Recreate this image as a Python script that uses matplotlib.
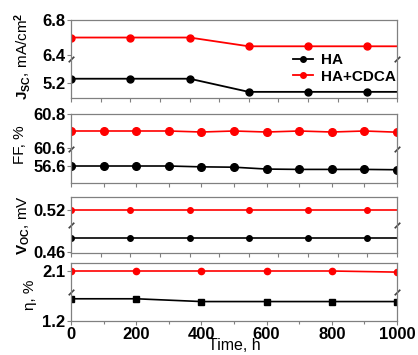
import numpy as np
import matplotlib
matplotlib.use("Agg")
import matplotlib.pyplot as plt

plt.rcParams['font.family'] = ['Liberation Sans', 'DejaVu Sans']
plt.rcParams['font.weight'] = 'bold'
plt.rcParams['mathtext.fontset'] = 'custom'
plt.rcParams['mathtext.rm'] = 'Liberation Sans:bold'
plt.rcParams['mathtext.bf'] = 'Liberation Sans:bold'
plt.rcParams['mathtext.it'] = 'Liberation Sans:bold'

# данные
t_jv = [0, 182, 364, 545, 727, 909, 1000]
jsc_ha = [5.25, 5.25, 5.25, 5.1, 5.1, 5.1, 5.1]
jsc_cdca = [6.6, 6.6, 6.6, 6.5, 6.5, 6.5, 6.5]
voc_ha = [0.48, 0.48, 0.48, 0.48, 0.48, 0.48, 0.48]
voc_cdca = [0.52, 0.52, 0.52, 0.52, 0.52, 0.52, 0.52]

t_ff = [0, 100, 200, 300, 400, 500, 600, 700, 800, 900, 1000]
ff_ha = [56.6, 56.6, 56.6, 56.6, 56.595, 56.593, 56.582, 56.58, 56.58, 56.58, 56.578]
ff_cdca = [60.70, 60.70, 60.70, 60.70, 60.694, 60.70, 60.694, 60.70, 60.694, 60.70, 60.693]

t_eta = [0, 200, 400, 600, 800, 1000]
eta_ha = [1.6, 1.6, 1.55, 1.55, 1.55, 1.55]
eta_cdca = [2.1, 2.1, 2.1, 2.1, 2.1, 2.08]

labels = ["HA", "HA+CDCA"]
gray = '#808080'


def broken(b_lo, b_hi):
    # разрыв оси: значения между b_lo и b_hi сжимаются
    gap = b_hi - b_lo

    def fwd(y):
        y = np.asarray(y, float)
        return np.where(y >= b_hi, y - gap, np.where(y <= b_lo, y, b_lo))

    def inv(y):
        y = np.asarray(y, float)
        return np.where(y > b_lo, y + gap, y)
    return fwd, inv


fig = plt.figure(figsize=(4.18, 3.55), dpi=100)
L, W = 71 / 418, 326 / 418
rects = [(98, 78), (183, 69), (253, 56), (321, 58)]
axes = [fig.add_axes([L, 1 - b / 355, W, h / 355]) for b, h in rects]

for ax in axes:
    for s in ax.spines.values():
        s.set_color(gray)
        s.set_linewidth(0.9)
    ax.set_xlim(0, 1000)
    ax.tick_params(axis='both', direction='out', color=gray, length=3,
                   width=0.8, labelsize=12, pad=1)
    ax.tick_params(axis='x', which='minor', direction='out', color=gray, length=2, width=0.8)
    ax.plot([0, 1], [0.5, 0.5], transform=ax.transAxes, ls='none',
            marker=[(-1, -1), (1, 1)], ms=4, mew=1.2, color='#404040', clip_on=False)

# Jsc
ax = axes[0]
ax.set_yscale('function', functions=broken(5.474, 6.354))
ax.plot(t_jv, jsc_ha, '-o', color='black', lw=1.3, ms=5, markevery=list(range(6)), label=labels[0])
ax.plot(t_jv, jsc_cdca, '-o', color='red', lw=1.3, ms=5, markevery=list(range(6)), label=labels[1])
ax.set_ylim(5.03, 6.8)
ax.set_yticks([5.2, 6.4, 6.8], ['5.2', '6.4', '6.8'])
ax.set_xticks(np.arange(12) * 1000 / 11)
ax.set_xticklabels([])
ax.set_ylabel(r"$\mathbf{J_{SC}}$, mA/cm$^{\mathbf{2}}$", fontsize=11)
ax.yaxis.set_label_coords(-0.117, 0.53)
ax.legend(loc='center left', bbox_to_anchor=(0.64, 0.38), frameon=False,
          fontsize=11, handlelength=1.3, handletextpad=0.5, labelspacing=0.15,
          markerscale=0.8)

# FF
ax = axes[1]
ax.set_yscale('function', functions=broken(56.7, 60.594))
ax.plot(t_ff, ff_ha, '-o', color='black', lw=1.2, ms=5.5)
ax.plot(t_ff, ff_cdca, '-o', color='red', lw=1.2, ms=5.5)
ax.set_ylim(56.5, 60.8)
ax.set_yticks([56.6, 60.6, 60.8], ['56.6', '60.6', '60.8'])
ax.set_xticks(t_ff)
ax.set_xticklabels([])
ax.set_ylabel("FF, %", fontsize=11)
ax.yaxis.set_label_coords(-0.135, 0.56)

# Voc
ax = axes[2]
ax.plot(t_jv, voc_ha, '-o', color='black', lw=1.2, ms=4, markevery=list(range(6)))
ax.plot(t_jv, voc_cdca, '-o', color='red', lw=1.2, ms=4, markevery=list(range(6)))
ax.set_ylim(0.4586, 0.538)
ax.set_yticks([0.46, 0.52], ['0.46', '0.52'])
ax.set_xticks(np.arange(12) * 1000 / 11)
ax.set_xticklabels([])
ax.set_ylabel(r"$\mathbf{V_{OC}}$, mV", fontsize=11)
ax.yaxis.set_label_coords(-0.12, 0.5)

# eta
ax = axes[3]
ax.plot(t_eta, eta_ha, '-s', color='black', lw=1.2, ms=4)
ax.plot(t_eta, eta_cdca, '-o', color='red', lw=1.2, ms=4.5)
ax.set_ylim(1.2, 2.244)
ax.set_yticks([1.2, 2.1], ['1.2', '2.1'])
ax.set_xticks([0, 200, 400, 600, 800, 1000])
ax.set_xticks(t_ff, minor=True)
ax.set_ylabel("η, %", fontsize=11)
ax.yaxis.set_label_coords(-0.104, 0.45)
ax.set_xlabel("Time, h", fontsize=11.5, va='top')
ax.xaxis.set_label_coords(0.5, -0.30)

fig.savefig("out.png", dpi=100)
